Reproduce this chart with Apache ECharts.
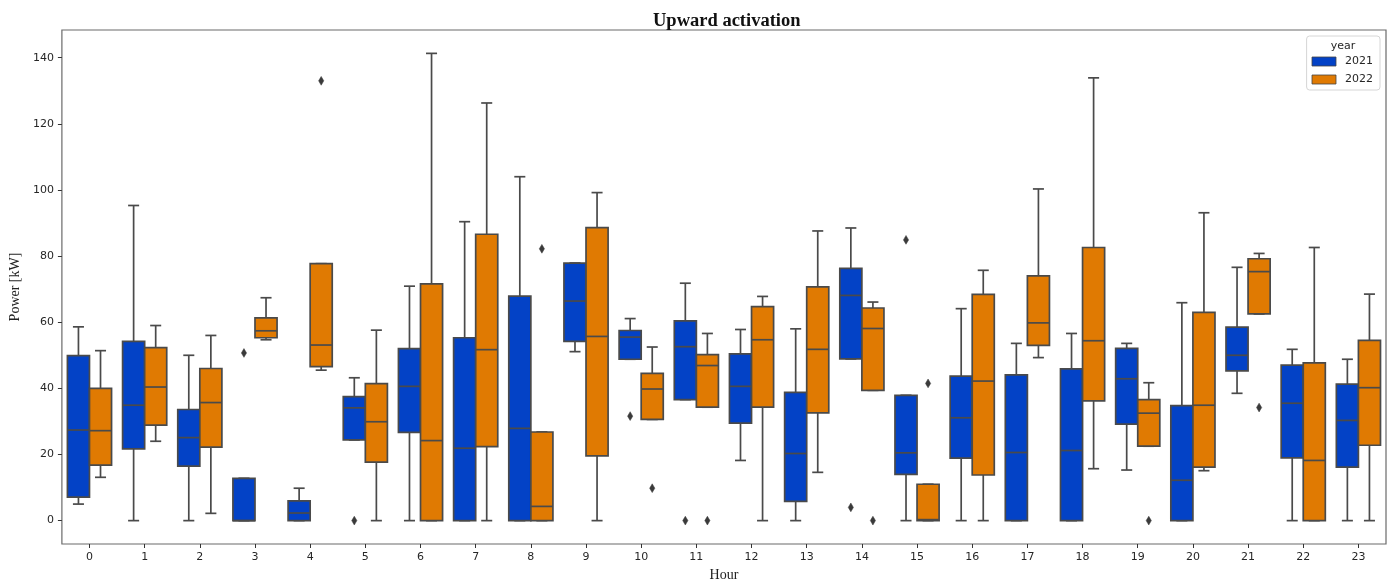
<!DOCTYPE html>
<html>
<head>
<meta charset="utf-8">
<title>Upward activation</title>
<script src="https://cdn.jsdelivr.net/npm/echarts@6/dist/echarts.min.js"></script>
<style>
  html, body { margin: 0; padding: 0; background: #ffffff; }
  #chart { width: 1392px; height: 587px; }
</style>
</head>
<body>
<div id="chart"></div>
<script>
// Hour of day categories
const hours = ['0','1','2','3','4','5','6','7','8','9','10','11','12','13','14','15','16','17','18','19','20','21','22','23'];

// Box statistics per hour: [whisker low, Q1, median, Q3, whisker high] in kW
const box2021 = [
  [5.0, 7.1, 27.4, 49.9, 58.6],
  [0, 21.7, 34.9, 54.2, 95.3],
  [0, 16.5, 25.1, 33.6, 50.0],
  [0, 0, 0, 12.8, 12.8],
  [0, 0, 2.3, 6.0, 9.8],
  [24.4, 24.4, 34.1, 37.5, 43.2],
  [0, 26.7, 40.6, 52.0, 70.9],
  [0, 0, 21.9, 55.3, 90.4],
  [0, 0, 27.9, 67.9, 104.0],
  [51.1, 54.2, 66.4, 77.9, 77.9],
  [48.8, 48.8, 55.5, 57.5, 61.1],
  [36.6, 36.6, 52.6, 60.4, 71.8],
  [18.2, 29.5, 40.6, 50.4, 57.8],
  [0, 5.8, 20.3, 38.8, 58.0],
  [48.9, 48.9, 68.1, 76.3, 88.5],
  [0, 14.0, 20.5, 37.9, 37.9],
  [0, 18.9, 31.1, 43.7, 64.1],
  [0, 0, 20.6, 44.1, 53.6],
  [0, 0, 21.2, 45.9, 56.6],
  [15.3, 29.2, 42.9, 52.1, 53.6],
  [0, 0, 12.2, 34.8, 65.9],
  [38.5, 45.3, 50.0, 58.5, 76.6],
  [0, 19.0, 35.5, 47.0, 51.8],
  [0, 16.2, 30.3, 41.3, 48.8]
];

const box2022 = [
  [13.1, 16.8, 27.2, 40.0, 51.4],
  [24.0, 28.9, 40.4, 52.3, 59.0],
  [2.2, 22.2, 35.7, 46.0, 56.0],
  [54.7, 55.3, 57.4, 61.3, 67.4],
  [45.5, 46.6, 53.1, 77.7, 77.7],
  [0, 17.7, 29.9, 41.4, 57.6],
  [0, 0, 24.2, 71.6, 141.3],
  [0, 22.4, 51.7, 86.6, 126.3],
  [0, 0, 4.3, 26.8, 26.8],
  [0, 19.6, 55.7, 88.6, 99.2],
  [30.6, 30.6, 39.8, 44.5, 52.5],
  [34.3, 34.3, 46.9, 50.2, 56.6],
  [0, 34.3, 54.7, 64.7, 67.8],
  [14.6, 32.6, 51.8, 70.7, 87.6],
  [39.4, 39.4, 58.1, 64.3, 66.1],
  [0, 0, 0.3, 11.0, 11.0],
  [0, 13.8, 42.2, 68.4, 75.7],
  [49.3, 53.0, 59.8, 74.0, 100.3],
  [15.7, 36.2, 54.4, 82.6, 133.9],
  [22.5, 22.5, 32.5, 36.6, 41.7],
  [15.1, 16.2, 34.9, 63.0, 93.1],
  [62.5, 62.5, 75.3, 79.2, 80.8],
  [0, 0, 18.2, 47.7, 82.6],
  [0, 22.8, 40.2, 54.5, 68.5]
];

// Outlying points: [hour index, value]
const outliers2021 = [[3, 50.7], [5, 0], [10, 31.6], [11, 0], [14, 4.0], [15, 84.9]];
const outliers2022 = [[4, 133.0], [8, 82.2], [10, 9.8], [11, 0], [14, 0], [15, 41.5], [19, 0], [21, 34.2]];

// Y axis tick values
const yTicks = [0, 20, 40, 60, 80, 100, 120, 140];
const years = ['2021', '2022'];

const BLUE = '#0342c6';
const ORANGE = '#e07a02';
const EDGE = '#4a4a4a';
const TEXT = '#262626';

// Each hue takes 40% of the category band, placed left (-1) or right (+1) of the tick
function boxRenderer(side, fill) {
  return function (params, api) {
    const h = api.value(0);
    const band = api.size([1, 0])[0];
    const w = band * 0.4;
    const cx = api.coord([h, 0])[0] + side * w / 2;
    const yAt = (dim) => api.coord([h, api.value(dim)])[1];
    const yMin = yAt(1), yQ1 = yAt(2), yMed = yAt(3), yQ3 = yAt(4), yMax = yAt(5);
    const cap = w / 4;
    const ls = { stroke: EDGE, lineWidth: 1.7 };
    return {
      type: 'group',
      children: [
        { type: 'line', shape: { x1: cx, y1: yQ3, x2: cx, y2: yMax }, style: ls },
        { type: 'line', shape: { x1: cx, y1: yQ1, x2: cx, y2: yMin }, style: ls },
        { type: 'line', shape: { x1: cx - cap, y1: yMax, x2: cx + cap, y2: yMax }, style: ls },
        { type: 'line', shape: { x1: cx - cap, y1: yMin, x2: cx + cap, y2: yMin }, style: ls },
        { type: 'rect', shape: { x: cx - w / 2, y: yQ3, width: w, height: yQ1 - yQ3 },
          style: { fill: fill, stroke: EDGE, lineWidth: 1.7 } },
        { type: 'line', shape: { x1: cx - w / 2, y1: yMed, x2: cx + w / 2, y2: yMed }, style: ls }
      ]
    };
  };
}

// Thin diamond markers for outliers, offset with their hue's box
function outlierRenderer(side) {
  return function (params, api) {
    const h = api.value(0);
    const band = api.size([1, 0])[0];
    const w = band * 0.4;
    const p = api.coord([h, api.value(1)]);
    const cx = p[0] + side * w / 2;
    const cy = p[1];
    const hw = 2.6, hh = 4.4;
    return {
      type: 'polygon',
      shape: { points: [[cx, cy - hh], [cx + hw, cy], [cx, cy + hh], [cx - hw, cy]] },
      style: { fill: '#3a3a3a', stroke: '#3a3a3a', lineWidth: 0.5 }
    };
  };
}

const chart = echarts.init(document.getElementById('chart'), null, { renderer: 'canvas' });

chart.setOption({
  animation: false,
  backgroundColor: '#ffffff',
  title: {
    text: 'Upward activation',
    left: 648,
    top: 7,
    textStyle: { fontFamily: 'Liberation Serif', fontWeight: 'bold', fontSize: 18.5, color: '#111' }
  },
  legend: {
    orient: 'vertical',
    right: 12,
    top: 36,
    padding: [20, 7, 5, 5],
    itemGap: 7,
    itemWidth: 24,
    itemHeight: 9,
    borderColor: '#d6d6d6',
    borderWidth: 1,
    borderRadius: 3,
    backgroundColor: '#ffffff',
    textStyle: { fontFamily: 'DejaVu Sans', fontSize: 11, color: TEXT, padding: [0, 0, 0, 4] },
    data: [
      { name: years[0], icon: 'rect', itemStyle: { color: BLUE, borderColor: '#444', borderWidth: 0.8 } },
      { name: years[1], icon: 'rect', itemStyle: { color: ORANGE, borderColor: '#444', borderWidth: 0.8 } }
    ]
  },
  graphic: [{
    type: 'text',
    z: 100,
    zlevel: 1,
    x: 1343,
    y: 46,
    style: {
      text: 'year', fontFamily: 'DejaVu Sans', fontSize: 11, fill: TEXT,
      align: 'center', verticalAlign: 'middle'
    }
  }],
  grid: {
    left: 60, right: 6, top: 30, bottom: 40,
    show: true,
    borderColor: '#6a6a6a',
    borderWidth: 1.2
  },
  xAxis: {
    type: 'category',
    data: hours,
    name: 'Hour',
    nameLocation: 'middle',
    nameGap: 24,
    nameTextStyle: { fontFamily: 'Liberation Serif', fontSize: 14, color: '#222' },
    axisLine: { show: false, onZero: false },
    axisTick: { show: true, alignWithLabel: true, length: 4, lineStyle: { color: '#333', width: 1 } },
    axisLabel: { fontFamily: 'DejaVu Sans', fontSize: 11, color: TEXT, margin: 8, interval: 0 },
    splitLine: { show: false }
  },
  yAxis: {
    type: 'value',
    min: -7.07,
    max: 148.37,
    name: 'Power [kW]',
    nameLocation: 'middle',
    nameGap: 36,
    nameTextStyle: { fontFamily: 'Liberation Serif', fontSize: 14, color: '#222' },
    axisLine: { show: false, onZero: false },
    axisTick: { show: true, length: 4, customValues: yTicks, lineStyle: { color: '#333', width: 1 } },
    axisLabel: { fontFamily: 'DejaVu Sans', fontSize: 11, color: TEXT, margin: 8, customValues: yTicks },
    splitLine: { show: false }
  },
  series: [
    {
      name: years[0],
      type: 'custom',
      renderItem: boxRenderer(-1, BLUE),
      itemStyle: { color: BLUE },
      encode: { x: 0, y: [1, 2, 3, 4, 5] },
      data: box2021.map((b, i) => [i].concat(b)),
      z: 2
    },
    {
      name: years[1],
      type: 'custom',
      renderItem: boxRenderer(1, ORANGE),
      itemStyle: { color: ORANGE },
      encode: { x: 0, y: [1, 2, 3, 4, 5] },
      data: box2022.map((b, i) => [i].concat(b)),
      z: 2
    },
    {
      name: years[0],
      type: 'custom',
      renderItem: outlierRenderer(-1),
      itemStyle: { color: BLUE },
      encode: { x: 0, y: 1 },
      data: outliers2021,
      z: 3
    },
    {
      name: years[1],
      type: 'custom',
      renderItem: outlierRenderer(1),
      itemStyle: { color: ORANGE },
      encode: { x: 0, y: 1 },
      data: outliers2022,
      z: 3
    }
  ]
});
</script>
</body>
</html>
